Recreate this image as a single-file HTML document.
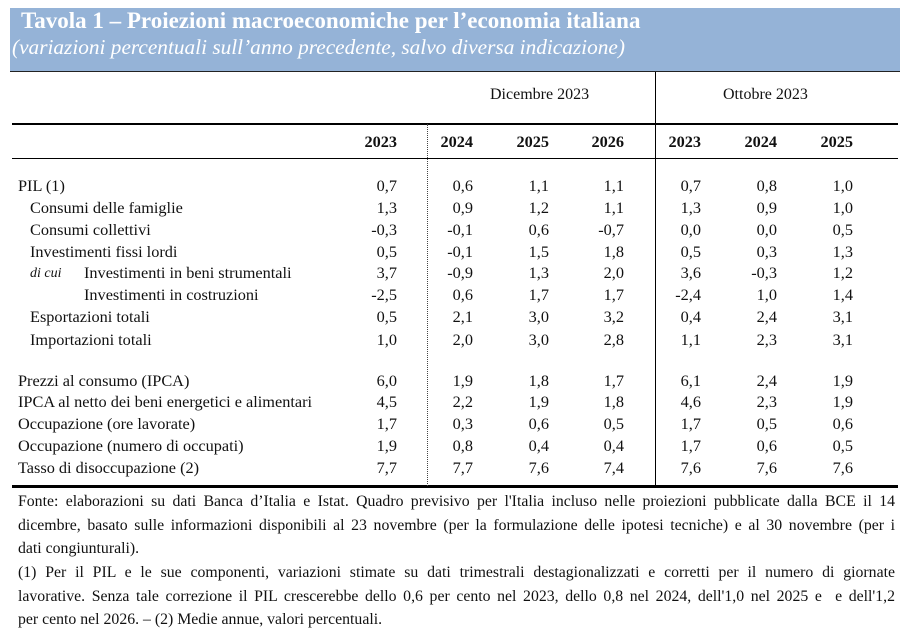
<!DOCTYPE html>
<html><head><meta charset="utf-8"><style>
body{margin:0;width:912px;height:633px;background:#fff;position:relative;font-family:"Liberation Serif",serif;color:#111;overflow:hidden}
.a{position:absolute;white-space:nowrap}
.hd{position:absolute;left:10px;top:8px;width:890px;height:63px;background:#95b3d7}
.r{position:absolute;font-size:16.3px;line-height:18px}
.n{position:absolute;text-align:right;width:60px}
.fl{position:absolute;left:18px;width:877px;font-size:15.8px;line-height:20px;white-space:nowrap;text-align:justify;text-align-last:justify}
.fe{position:absolute;left:18px;font-size:15.8px;line-height:20px;white-space:nowrap}
</style></head><body>
<div class="hd"></div>
<div class="a" style="left:21px;top:8px;font-size:23px;font-weight:bold;color:#fff">Tavola 1 – Proiezioni macroeconomiche per l’economia italiana</div>
<div class="a" style="left:12px;top:35px;font-size:21.3px;font-style:italic;color:#fff">(variazioni percentuali sull’anno precedente, salvo diversa indicazione)</div>
<div class="a" style="left:10px;top:71px;width:890px;height:1px;background:#222"></div>
<div class="a" style="left:12px;top:123px;width:886px;height:2px;background:#000"></div>
<div class="a" style="left:12px;top:158px;width:886px;height:1px;background:#000"></div>
<div class="a" style="left:12px;top:485px;width:886px;height:3px;background:#000"></div>
<div class="a" style="left:655px;top:72px;width:1px;height:414px;background:#000"></div>
<div class="a" style="left:427px;top:124px;width:0;height:362px;border-left:1px dotted #444"></div>
<div class="a" style="left:490px;top:86px;font-size:16px">Dicembre 2023</div>
<div class="a" style="left:723px;top:86px;font-size:16px">Ottobre 2023</div>
<div id="t"></div>
<div class="fl" style="top:492px">Fonte: elaborazioni su dati Banca d’Italia e Istat. Quadro previsivo per l'Italia incluso nelle proiezioni pubblicate dalla BCE il 14</div>
<div class="fl" style="top:516px">dicembre, basato sulle informazioni disponibili al 23 novembre (per la formulazione delle ipotesi tecniche) e al 30 novembre (per i</div>
<div class="fe" style="top:539px">dati congiunturali).</div>
<div class="fl" style="top:563px">(1) Per il PIL e le sue componenti, variazioni stimate su dati trimestrali destagionalizzati e corretti per il numero di giornate</div>
<div class="fl" style="top:587px">lavorative. Senza tale correzione il PIL crescerebbe dello 0,6 per cento nel 2023, dello 0,8 nel 2024, dell'1,0 nel 2025 e&nbsp; e dell'1,2</div>
<div class="fe" style="top:610px">per cento nel 2026. – (2) Medie annue, valori percentuali.</div>
<script>
var R=[397,473,549,624,701,777,853];
var h='';
var yrs=['2023','2024','2025','2026','2023','2024','2025'];
yrs.forEach(function(y,i){h+='<div class="n r" style="left:'+(R[i]-60)+'px;top:133px;font-weight:bold">'+y+'</div>';});
var rows=[
[186,18,'PIL (1)','0,7 0,6 1,1 1,1 0,7 0,8 1,0'],
[208,30,'Consumi delle famiglie','1,3 0,9 1,2 1,1 1,3 0,9 1,0'],
[230,30,'Consumi collettivi','-0,3 -0,1 0,6 -0,7 0,0 0,0 0,5'],
[252,30,'Investimenti fissi lordi','0,5 -0,1 1,5 1,8 0,5 0,3 1,3'],
[273,84,'Investimenti in beni strumentali','3,7 -0,9 1,3 2,0 3,6 -0,3 1,2'],
[295,84,'Investimenti in costruzioni','-2,5 0,6 1,7 1,7 -2,4 1,0 1,4'],
[317,30,'Esportazioni totali','0,5 2,1 3,0 3,2 0,4 2,4 3,1'],
[340,30,'Importazioni totali','1,0 2,0 3,0 2,8 1,1 2,3 3,1'],
[381,18,'Prezzi al consumo (IPCA)','6,0 1,9 1,8 1,7 6,1 2,4 1,9'],
[402,18,'IPCA al netto dei beni energetici e alimentari','4,5 2,2 1,9 1,8 4,6 2,3 1,9'],
[424,18,'Occupazione (ore lavorate)','1,7 0,3 0,6 0,5 1,7 0,5 0,6'],
[446,18,'Occupazione (numero di occupati)','1,9 0,8 0,4 0,4 1,7 0,6 0,5'],
[468,18,'Tasso di disoccupazione (2)','7,7 7,7 7,6 7,4 7,6 7,6 7,6']];
rows.forEach(function(r){var t=r[0]-9;
h+='<div class="a r" style="left:'+r[1]+'px;top:'+t+'px">'+r[2]+'</div>';
r[3].split(' ').forEach(function(v,i){h+='<div class="n r" style="left:'+(R[i]-60)+'px;top:'+t+'px">'+v+'</div>';});});
h+='<div class="a r" style="left:30px;top:265px;font-style:italic;font-size:14px">di cui</div>';
document.getElementById('t').innerHTML=h;
</script>
</body></html>
